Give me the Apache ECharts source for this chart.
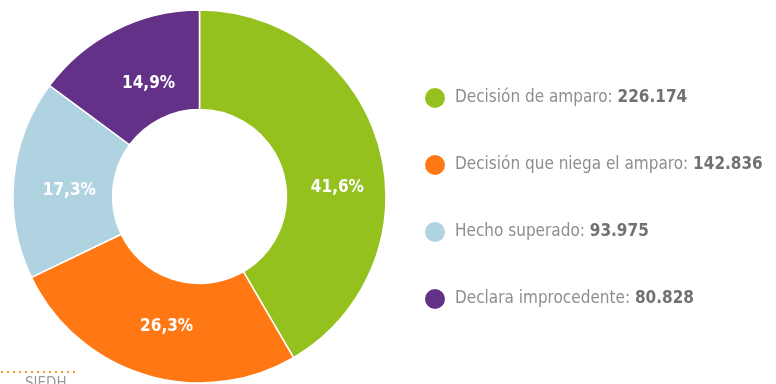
<!DOCTYPE html>
<html>
<head>
<meta charset="utf-8">
<script src="https://cdn.jsdelivr.net/npm/echarts@6/dist/echarts.min.js"></script>
<style>
  html, body { margin: 0; padding: 0; background: #ffffff; }
  #chart { width: 776px; height: 384px; }
</style>
</head>
<body>
<div id="chart"></div>
<script>
// Decisiones de tutela por tipo
const categories = [
  'Decisión de amparo',
  'Decisión que niega el amparo',
  'Hecho superado',
  'Declara improcedente'
];
const values = [226174, 142836, 93975, 80828];

// Presentation
const colors = ['#95C11F', '#FF7814', '#AFD3E0', '#633288'];
const labelOffsets = [[3, 28], [8, -4], [9, 7], [12, 12]];

const total = values.reduce((a, b) => a + b, 0);
const FONT = '"DejaVu Sans Condensed", "Roboto Condensed", sans-serif';

function thousands(n) {
  return String(n).replace(/\B(?=(\d{3})+(?!\d))/g, '.');
}
function pct(n) {
  return (n / total * 100).toFixed(1).replace('.', ',') + '%';
}

const seriesData = categories.map((name, i) => ({
  name: name,
  value: values[i],
  itemStyle: { color: colors[i] },
  label: { offset: labelOffsets[i] }
}));

const chart = echarts.init(document.getElementById('chart'), null, { renderer: 'canvas' });
chart.setOption({
  animation: false,
  backgroundColor: '#ffffff',
  legend: {
    orient: 'vertical',
    left: 423,
    top: 86,
    padding: 0,
    itemWidth: 22,
    itemHeight: 22,
    itemGap: 43,
    icon: 'circle',
    selectedMode: false,
    data: categories,
    formatter: function (name) {
      const i = categories.indexOf(name);
      return '{a|' + name + ': }{b|' + thousands(values[i]) + '}';
    },
    textStyle: {
      padding: [0, 0, 0, 4],
      lineHeight: 22,
      rich: {
        a: { fontFamily: FONT, fontSize: 17, color: '#8e8e8e', fontWeight: 'normal', lineHeight: 22 },
        b: { fontFamily: FONT, fontSize: 17, color: '#717171', fontWeight: 'bold', lineHeight: 22 }
      }
    }
  },
  series: [{
    type: 'pie',
    center: [199.5, 196.5],
    radius: [87, 186.5],
    startAngle: 90,
    clockwise: true,
    avoidLabelOverlap: false,
    itemStyle: { borderColor: '#ffffff', borderWidth: 1.5 },
    emphasis: { disabled: true },
    label: {
      show: true,
      position: 'inside',
      color: '#ffffff',
      fontFamily: FONT,
      fontWeight: 'bold',
      fontSize: 17,
      formatter: function (p) { return pct(p.value); }
    },
    labelLine: { show: false },
    data: seriesData
  }],
  graphic: [
    {
      type: 'line',
      shape: { x1: 1, y1: 372, x2: 78, y2: 372 },
      style: { stroke: '#F29A20', lineWidth: 2, lineDash: [2, 4] }
    },
    {
      type: 'text',
      left: 25,
      top: 377,
      style: { text: 'SIEDH', fill: '#9a9a9a', font: '15px ' + FONT }
    }
  ]
});
</script>
</body>
</html>
